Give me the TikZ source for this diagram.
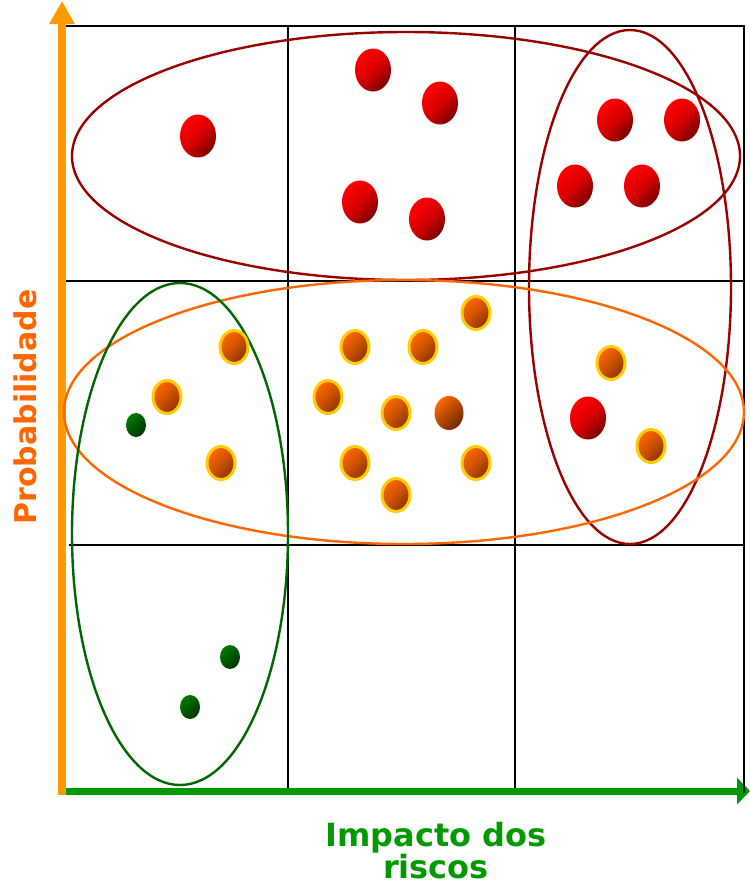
\documentclass[tikz,border=0pt]{standalone}
\usepackage{fontspec}
\setmainfont{DejaVu Sans}
\usepackage{tikz}
\usetikzlibrary{shapes.geometric,arrows.meta}

\definecolor{riskred}{HTML}{990000}
\definecolor{riskorange}{HTML}{FF6600}
\definecolor{riskgreen}{HTML}{006600}
\definecolor{axisorange}{HTML}{FF9900}
\definecolor{axisgreen}{HTML}{009900}
\definecolor{ballred}{HTML}{FF0000}
\definecolor{ballreddark}{HTML}{7A0000}
\definecolor{ballorange}{HTML}{FF6600}
\definecolor{ballorangedark}{HTML}{8A3300}
\definecolor{ballgreen}{HTML}{007A00}
\definecolor{ballgreendark}{HTML}{003300}
\definecolor{rim}{HTML}{FFCC00}

\begin{document}
\begin{tikzpicture}[
    x=1pt, y=-1pt,
    gridline/.style={draw=black, line width=2pt},
    riskline/.style={line width=2.4pt},
    redball/.style={ellipse, inner sep=0pt, minimum width=36pt, minimum height=43pt,
      top color=ballred, bottom color=ballreddark, middle color=ballred!85!black,
      shading angle=45},
    orangeball/.style={ellipse, inner sep=0pt, minimum width=28pt, minimum height=33pt,
      draw=rim, line width=3pt,
      top color=ballorange, bottom color=ballorangedark, middle color=ballorange!80!black,
      shading angle=45},
    brownball/.style={ellipse, inner sep=0pt, minimum width=29pt, minimum height=34pt,
      top color=ballorange, bottom color=ballorangedark!80!black,
      middle color=ballorange!70!black, shading angle=45},
    greenball/.style={ellipse, inner sep=0pt, minimum width=20pt, minimum height=24pt,
      top color=ballgreen, bottom color=ballgreendark, shading angle=45},
    axislabel/.style={inner sep=0pt, font=\bfseries\fontsize{32}{25}\selectfont},
  ]
    \useasboundingbox (0,0) rectangle (750,887);

    % axes
    \coordinate (origin) at (62,795);
    \coordinate (ytip) at (62,1);
    \coordinate (xstart) at (66,791);
    \coordinate (xtip) at (750,791);
    \draw[axisorange, line width=8pt, -{Triangle[length=23pt, width=24pt]}] (origin) -- (ytip);
    \draw[axisgreen, line width=7pt, -{Triangle[length=13pt, width=26pt]}] (xstart) -- (xtip);

    % grid
    \draw[gridline] (66,26) -- (744,26) -- (744,793);
    \draw[gridline] (66,281) -- (744,281);
    \draw[gridline] (69,545) -- (744,545);
    \draw[gridline] (288,26) -- (288,788);
    \draw[gridline] (515,26) -- (515,788);

    % risk groups
    \draw[riskline, riskred] (406,156) ellipse [x radius=334pt, y radius=124pt];
    \draw[riskline, riskred] (630,287) ellipse [x radius=101pt, y radius=257pt];
    \draw[riskline, riskorange] (404,412) ellipse [x radius=340pt, y radius=132pt];
    \draw[riskline, riskgreen] (180,534) ellipse [x radius=108pt, y radius=251pt];

    % high risks
    \node[redball] (red1) at (198,136) {};
    \node[redball] (red2) at (373,70) {};
    \node[redball] (red3) at (440,103) {};
    \node[redball] (red4) at (360,202) {};
    \node[redball] (red5) at (427,219) {};
    \node[redball] (red6) at (615,120) {};
    \node[redball] (red7) at (682,120) {};
    \node[redball] (red8) at (575,186) {};
    \node[redball] (red9) at (642,186) {};
    \node[redball] (red10) at (588,418) {};

    % medium risks
    \node[orangeball] (med1) at (234,347) {};
    \node[orangeball] (med2) at (167,397) {};
    \node[orangeball] (med3) at (221,463) {};
    \node[orangeball] (med4) at (476,313) {};
    \node[orangeball] (med5) at (355,347) {};
    \node[orangeball] (med6) at (423,347) {};
    \node[orangeball] (med7) at (328,397) {};
    \node[orangeball] (med8) at (396,413) {};
    \node[brownball] (med9) at (449,413) {};
    \node[orangeball] (med10) at (355,463) {};
    \node[orangeball] (med11) at (476,463) {};
    \node[orangeball] (med12) at (396,495) {};
    \node[orangeball] (med13) at (611,363) {};
    \node[orangeball] (med14) at (651,446) {};

    % low risks
    \node[greenball] (low1) at (136,425) {};
    \node[greenball] (low2) at (230,657) {};
    \node[greenball] (low3) at (190,707) {};

    % labels
    \node[axislabel, text=riskorange, rotate=90,
      font=\bfseries\fontsize{30}{30}\selectfont] (ylabel) at (25,407) {Probabilidade};
    \node[axislabel, text=axisgreen, align=center, anchor=north] (xlabel) at (436,822) {Impacto dos\\riscos};
  \end{tikzpicture}
\end{document}
